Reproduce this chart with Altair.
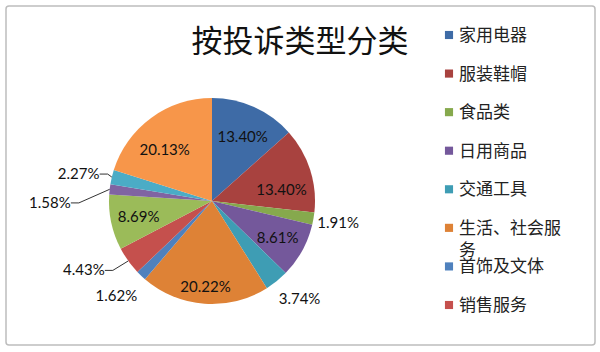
import math
import pandas as pd
import altair as alt

# ---------------- data ----------------
TITLE = "按投诉类型分类"
CATEGORIES = ["家用电器", "服装鞋帽", "食品类", "日用商品", "交通工具",
              "生活、社会服务", "首饰及文体", "销售服务",
              "其他类别9", "其他类别10", "其他类别11", "其他类别12"]
SHARES = [13.40, 13.40, 1.91, 8.61, 3.74, 20.22, 1.62, 4.43, 8.69, 1.58, 2.27, 20.13]
LEGEND_SHOWN = CATEGORIES[:8]

# ---------------- style ----------------
COLORS = ["#3E6BA6", "#A8423F", "#86A94D", "#74589B", "#3E9DB4", "#DE8236",
          "#4F81BD", "#C5504D", "#9BBB59", "#8064A2", "#4BACC6", "#F7964A"]
CX, CY, R = 212, 201, 103
# per-slice label placement: (radius, dx, dy)
LABEL_STYLE = {
    0: (75, 0, 4), 1: (75, -2, 12), 2: (128, 0, 0), 3: (75, 0, 1),
    4: (133, 4, -5), 5: (75, -1, 11), 6: (133, -4, -1), 7: (133, -20, -8),
    8: (75, 0, 0), 9: (133, -30, 17), 10: (133, -4, 4), 11: (75, -3, 9),
}
LEADERS = [7, 9, 10]
LABEL_FONT = "Lato"
CJK_FONT = "Noto Sans CJK SC"

TOTAL = sum(SHARES)
df = pd.DataFrame({"cat": CATEGORIES, "share": SHARES, "idx": list(range(len(SHARES)))})

base = alt.Chart(df).transform_window(
    end="sum(share)", sort=[alt.SortField("idx")], frame=[None, 0]
).transform_calculate(
    start="datum.end - datum.share",
    mid="datum.end - datum.share / 2",
    label="format(datum.share, '.2f') + '%'",
)

theta_scale = alt.Scale(domain=[0, TOTAL], range=[0, 2 * math.pi])
color_scale = alt.Scale(domain=CATEGORIES, range=COLORS)

background = alt.Chart(pd.DataFrame({"t": [TITLE]})).mark_rect(
    fill="#ffffff", stroke="#BDBDBD", strokeWidth=1.5, cornerRadius=3
).encode(x=alt.value(6), x2=alt.value(595), y=alt.value(6), y2=alt.value(345))

arcs = base.mark_arc(radius=R).encode(
    theta=alt.Theta("start:Q", scale=theta_scale, stack=None),
    theta2="end:Q",
    color=alt.Color("cat:N", scale=color_scale, legend=None),
    x=alt.value(CX), y=alt.value(CY),
)

label_layers = []
for i, (r, dx, dy) in LABEL_STYLE.items():
    label_layers.append(
        base.transform_filter(f"datum.idx == {i}").mark_text(
            radius=r, dx=dx, dy=dy, font=LABEL_FONT, fontSize=15,
            color="#111111", align="center", baseline="middle"
        ).encode(
            theta=alt.Theta("mid:Q", scale=theta_scale, stack=None),
            text="label:N",
            x=alt.value(CX), y=alt.value(CY),
        )
    )

# leader lines derived from the data
cum = 0.0
mids = []
for v in SHARES:
    mids.append(cum + v / 2)
    cum += v
seg_rows = []
for i in LEADERS:
    a = 2 * math.pi * mids[i] / TOTAL
    r, dx, dy = LABEL_STYLE[i]
    ex, ey = CX + R * math.sin(a), CY - R * math.cos(a)
    lx, ly = CX + r * math.sin(a) + dx, CY - r * math.cos(a) + dy
    end_x = lx + 21
    elbow_x = end_x + 8
    seg_rows.append({"x1": end_x, "y1": ly, "x2": elbow_x, "y2": ly})
    seg_rows.append({"x1": elbow_x, "y1": ly, "x2": ex, "y2": ey})
leaders = alt.Chart(pd.DataFrame(seg_rows)).mark_rule(color="#333333", strokeWidth=1).encode(
    x=alt.X("x1:Q", scale=None, axis=None),
    y=alt.Y("y1:Q", scale=None, axis=None),
    x2="x2:Q", y2="y2:Q",
)

title = alt.Chart(pd.DataFrame({"t": [TITLE]})).mark_text(
    font=CJK_FONT, fontSize=31, color="#111111", align="center", baseline="middle"
).encode(text="t:N", x=alt.value(300), y=alt.value(43))

legend_y = alt.Y("cat:N", scale=alt.Scale(type="point", domain=LEGEND_SHOWN,
                                           range=[35, 305], padding=0), axis=None)
legend_base = alt.Chart(df).transform_filter(
    alt.FieldOneOfPredicate(field="cat", oneOf=LEGEND_SHOWN)
)
legend_sym = legend_base.mark_square(size=66, opacity=1).encode(
    x=alt.value(449), y=legend_y,
    color=alt.Color("cat:N", scale=color_scale, legend=None),
)
legend_txt = legend_base.transform_calculate(
    lines="length(datum.cat) > 6 ? [substring(datum.cat, 0, 6), substring(datum.cat, 6)] : datum.cat"
).mark_text(
    font=CJK_FONT, fontSize=17, lineHeight=22, color="#222222",
    align="left", baseline="alphabetic", dy=6
).encode(x=alt.value(459), y=legend_y, text="lines:N")

chart = alt.layer(
    background, arcs, *label_layers, leaders, title, legend_sym, legend_txt
).resolve_scale(
    y="independent", x="independent"
).properties(
    width=600, height=352, padding=0, autosize="none", background="#ffffff"
).configure_view(stroke=None)

chart.save("out.html", embed_options={"renderer": "svg", "actions": False})
